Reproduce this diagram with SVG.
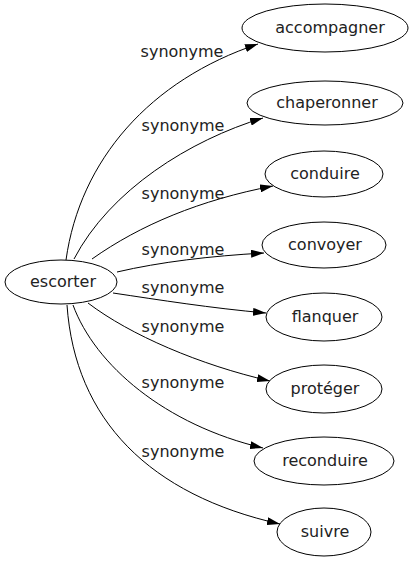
<svg xmlns="http://www.w3.org/2000/svg" width="413" height="563" viewBox="0 0 413 563">
<defs>
<marker id="arr" viewBox="0 0 13 8" refX="13" refY="4" markerWidth="13" markerHeight="8" markerUnits="userSpaceOnUse" orient="auto">
<path d="M0,0 L13,4 L0,8 Z" fill="#000"/>
</marker>
</defs>
<style>
.node ellipse{fill:#fff;stroke:#000;stroke-width:1}
text{font-family:"DejaVu Sans",Verdana,sans-serif;font-size:16px;fill:#222;text-anchor:middle}
.edges path{fill:none;stroke:#000;stroke-width:1;marker-end:url(#arr)}
</style>
<rect width="413" height="563" fill="#fff"/>
<g class="edges" id="edges">
<path d="M66,260 C80,160 150,80 258,44"/>
<path d="M74,259 C110,190 190,140 263,118"/>
<path d="M92,259 C140,225 200,200 273,186"/>
<path d="M117,272 C160,262 210,256 264,253"/>
<path d="M113,293 C160,300 210,308 266,313"/>
<path d="M88,303 C130,335 200,365 270,381"/>
<path d="M73,305 C95,365 165,425 263,448"/>
<path d="M67,305 C75,420 150,495 280,524"/>
<text x="182" y="57">synonyme</text>
<text x="183" y="131">synonyme</text>
<text x="183" y="199">synonyme</text>
<text x="183" y="255">synonyme</text>
<text x="183" y="293">synonyme</text>
<text x="183" y="332">synonyme</text>
<text x="183" y="388">synonyme</text>
<text x="183" y="457">synonyme</text>
</g>
<g class="node" id="escorter"><ellipse cx="61" cy="282" rx="56" ry="22"/><text x="63" y="287">escorter</text></g>
<g class="node" id="accompagner"><ellipse cx="325" cy="28" rx="83" ry="24"/><text x="330" y="33">accompagner</text></g>
<g class="node" id="chaperonner"><ellipse cx="325" cy="103" rx="78" ry="22"/><text x="327" y="108">chaperonner</text></g>
<g class="node" id="conduire"><ellipse cx="324" cy="174" rx="59" ry="23"/><text x="325" y="179">conduire</text></g>
<g class="node" id="convoyer"><ellipse cx="324" cy="245" rx="62" ry="23"/><text x="325" y="250">convoyer</text></g>
<g class="node" id="flanquer"><ellipse cx="324" cy="317" rx="58" ry="24"/><text x="325" y="322">flanquer</text></g>
<g class="node" id="proteger"><ellipse cx="324" cy="389" rx="58" ry="24"/><text x="325" y="394">protéger</text></g>
<g class="node" id="reconduire"><ellipse cx="324" cy="461" rx="70" ry="24"/><text x="325" y="466">reconduire</text></g>
<g class="node" id="suivre"><ellipse cx="324" cy="532" rx="47" ry="24"/><text x="325" y="537">suivre</text></g>
</svg>
